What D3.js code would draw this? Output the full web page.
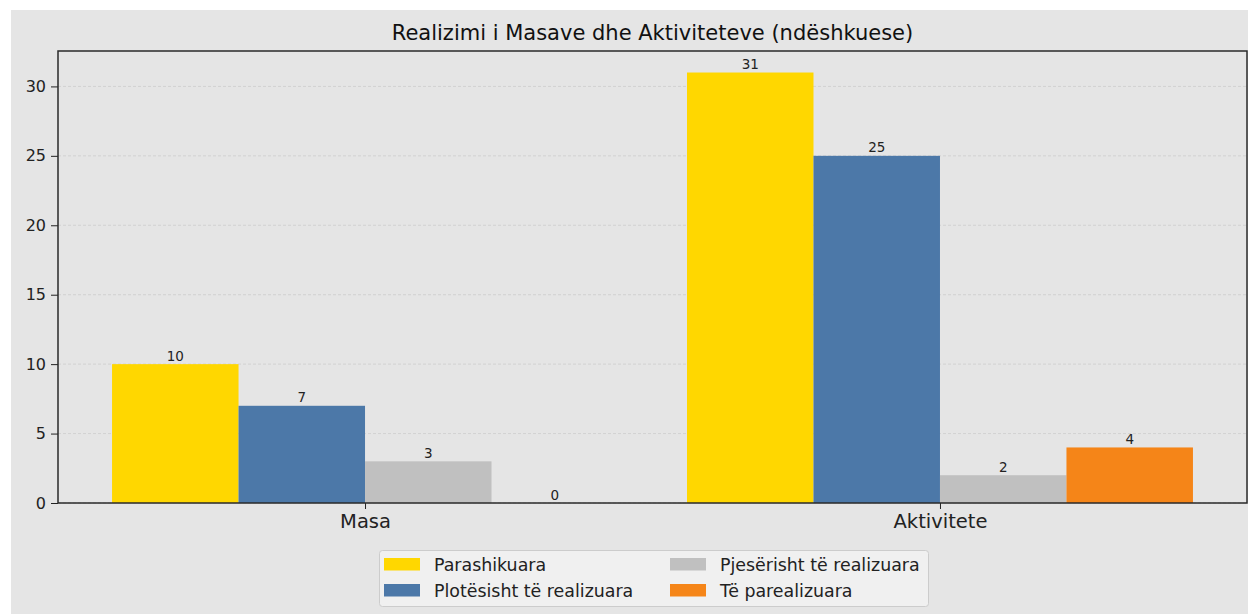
<!DOCTYPE html>
<html>
<head>
<meta charset="utf-8">
<script src="https://cdn.jsdelivr.net/npm/d3@7"></script>
<style>
  body { margin: 0; background: #fff; }
  svg { display: block; font-family: "DejaVu Sans", sans-serif; }
</style>
</head>
<body>
<svg id="chart" width="1248" height="614"></svg>
<script>
// chart data
var categories = ["Masa", "Aktivitete"];
var seriesNames = ["Parashikuara", "Plotësisht të realizuara", "Pjesërisht të realizuara", "Të parealizuara"];
var seriesColors = ["#FFD700", "#4C78A8", "#C0C0C0", "#F58518"];
var parashikuara = [10, 31];
var plotesisht = [7, 25];
var pjeserisht = [3, 2];
var parealizuara = [0, 4];
var yTicks = [0, 5, 10, 15, 20, 25, 30];

var series = [parashikuara, plotesisht, pjeserisht, parealizuara];

var svg = d3.select("#chart");
var margin = { left: 58, right: 1247, top: 51, bottom: 503 };

// figure background
svg.append("rect")
    .attr("x", 11).attr("y", 10)
    .attr("width", 1248 - 11).attr("height", 614 - 10)
    .attr("fill", "#e5e5e5");

var barW = 0.22;
var pad = 0.05 * (1 + 4 * barW);
var x = d3.scaleLinear()
    .domain([-2 * barW - pad, 1 + 2 * barW + pad])
    .range([margin.left, margin.right]);

var y = d3.scaleLinear()
    .domain([0, 31 * 1.05])
    .range([margin.bottom, margin.top]);

// grid
svg.append("g")
    .selectAll("line")
    .data(yTicks)
    .enter()
    .append("line")
    .attr("x1", margin.left).attr("x2", margin.right)
    .attr("y1", function (d) { return y(d); })
    .attr("y2", function (d) { return y(d); })
    .attr("stroke", "#c8c8c8")
    .attr("stroke-width", 0.7)
    .attr("stroke-dasharray", "3,2");

// bars
var rows = [];
series.forEach(function (vals, si) {
    vals.forEach(function (v, ci) {
        rows.push({ s: si, c: ci, v: v });
    });
});

svg.append("g")
    .selectAll("rect")
    .data(rows)
    .enter()
    .append("rect")
    .attr("x", function (d) { return x(d.c + (d.s - 2) * barW); })
    .attr("width", function (d) { return x(barW) - x(0); })
    .attr("y", function (d) { return y(d.v); })
    .attr("height", function (d) { return y(0) - y(d.v); })
    .attr("fill", function (d) { return seriesColors[d.s]; });

// value labels
svg.append("g")
    .selectAll("text")
    .data(rows)
    .enter()
    .append("text")
    .attr("x", function (d) { return x(d.c + (d.s - 1.5) * barW); })
    .attr("y", function (d) { return y(d.v) - 3.5; })
    .attr("text-anchor", "middle")
    .attr("font-size", "13.5px")
    .attr("fill", "#222")
    .text(function (d) { return d.v; });

// axes
var yAxis = d3.axisLeft(y)
    .tickValues(yTicks)
    .tickSize(7)
    .tickPadding(5);
var gy = svg.append("g")
    .attr("transform", "translate(" + margin.left + ",0)")
    .call(yAxis);
gy.select(".domain").remove();
gy.selectAll("text").attr("font-size", "16px").attr("fill", "#222").attr("font-family", "DejaVu Sans");
gy.selectAll("line").attr("stroke", "#222");

var xAxis = d3.axisBottom(x)
    .tickValues([0, 1])
    .tickFormat(function (d) { return categories[d]; })
    .tickSize(6)
    .tickPadding(5);
var gx = svg.append("g")
    .attr("transform", "translate(0," + margin.bottom + ")")
    .call(xAxis);
gx.select(".domain").remove();
gx.selectAll("text").attr("font-size", "19.5px").attr("fill", "#222").attr("font-family", "DejaVu Sans");
gx.selectAll("line").attr("stroke", "#222");

// spines
svg.append("rect")
    .attr("x", margin.left).attr("y", margin.top)
    .attr("width", margin.right - margin.left)
    .attr("height", margin.bottom - margin.top)
    .attr("fill", "none")
    .attr("stroke", "#2a2a2a")
    .attr("stroke-width", 1.5);

// title
svg.append("text")
    .attr("x", (margin.left + margin.right) / 2)
    .attr("y", 40)
    .attr("text-anchor", "middle")
    .attr("font-size", "21px")
    .attr("fill", "#111")
    .text("Realizimi i Masave dhe Aktiviteteve (ndëshkuese)");

// legend
var legend = svg.append("g");
legend.append("rect")
    .attr("x", 379.5).attr("y", 550.5)
    .attr("width", 549).attr("height", 56)
    .attr("rx", 3)
    .attr("fill", "#f0f0f0")
    .attr("stroke", "#cccccc");

var legItems = legend.selectAll("g.item")
    .data(seriesNames)
    .enter()
    .append("g")
    .attr("class", "item")
    .attr("transform", function (d, i) {
        var col = i < 2 ? 0 : 1;
        var row = i % 2;
        return "translate(" + (384 + col * 286) + "," + (558 + row * 26) + ")";
    });

legItems.append("rect")
    .attr("width", 36).attr("height", 12.5)
    .attr("fill", function (d, i) { return seriesColors[i]; });

legItems.append("text")
    .attr("x", 50)
    .attr("y", 12.5)
    .attr("font-size", "17.4px")
    .attr("fill", "#222")
    .text(function (d) { return d; });
</script>
</body>
</html>
